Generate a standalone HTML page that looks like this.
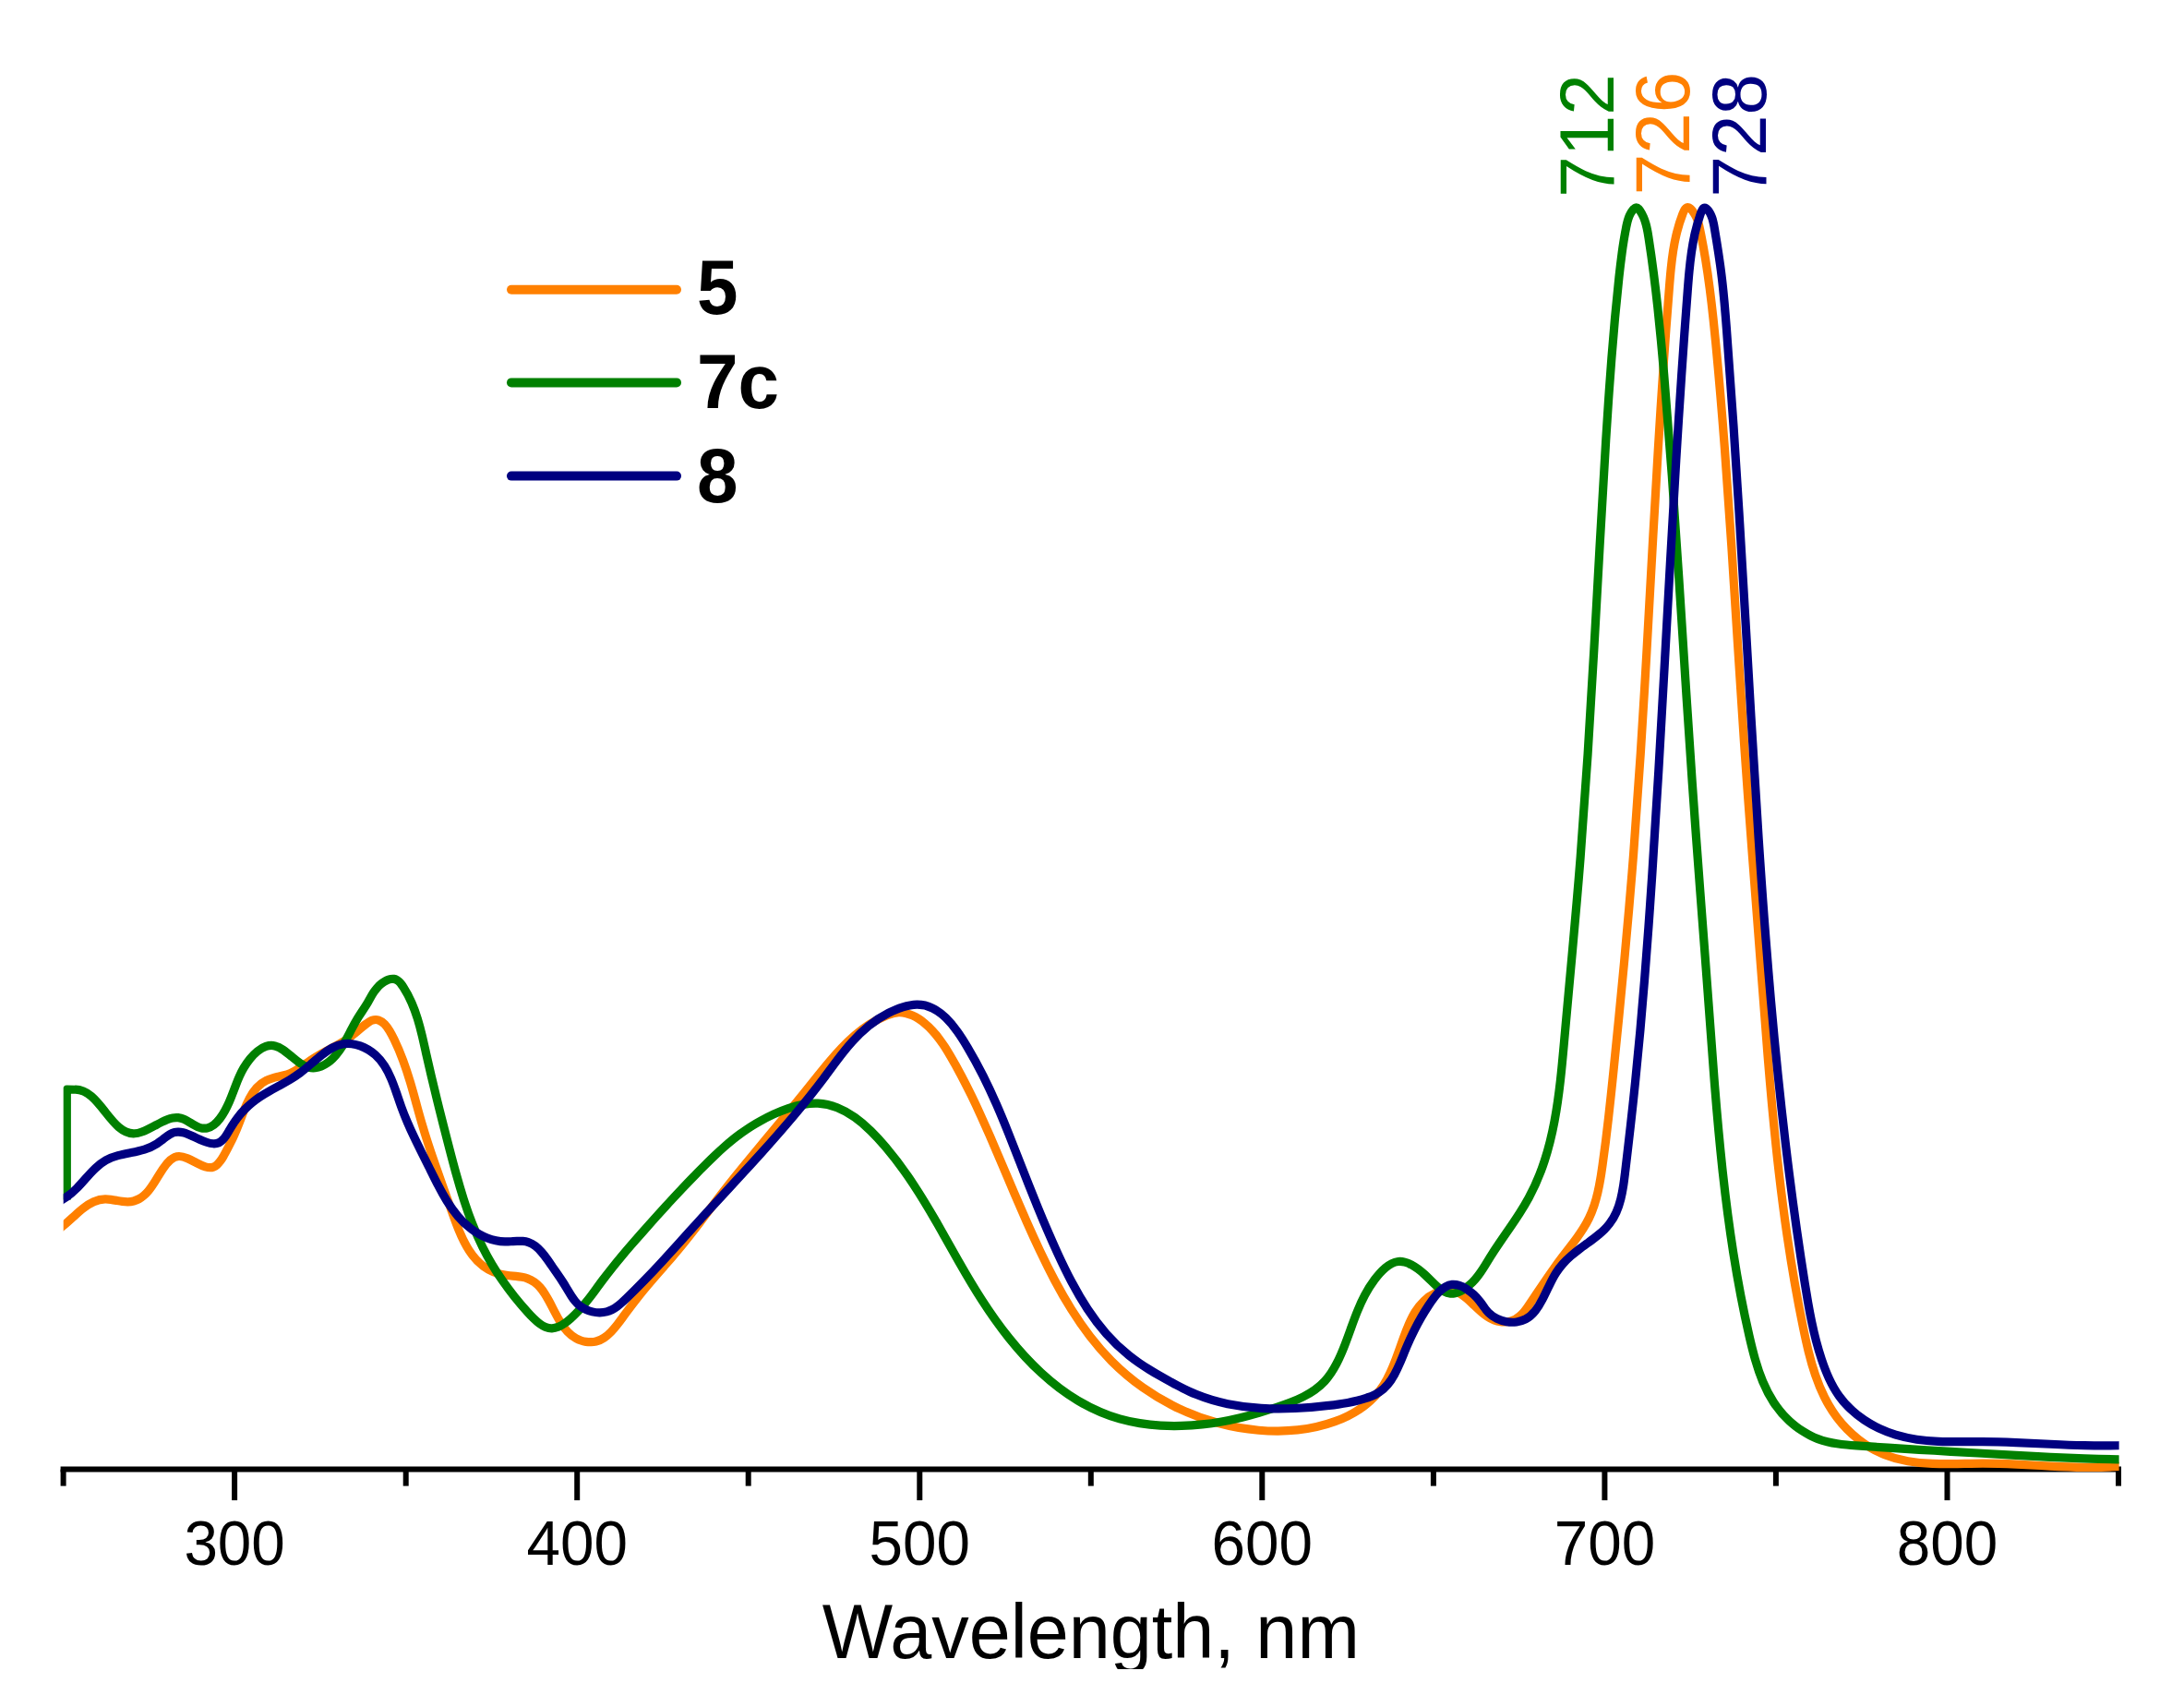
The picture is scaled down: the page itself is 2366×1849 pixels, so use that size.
<!DOCTYPE html>
<html lang="en"><head><meta charset="utf-8"><title>Absorption spectra</title>
<style>
html,body{margin:0;padding:0;background:#fff;}
body{width:2366px;height:1849px;overflow:hidden;font-family:"Liberation Sans",Arial,Helvetica,sans-serif;}
svg{display:block}
svg text{font-family:"Liberation Sans",Arial,Helvetica,sans-serif;}
</style></head><body>
<svg width="2366" height="1849" viewBox="0 0 2366 1849">
<defs><clipPath id="clipb"><rect x="0" y="0" width="2366" height="1808"/></clipPath><clipPath id="frame"><rect x="68.7" y="0" width="2226.9" height="1700"/></clipPath></defs>
<rect width="2366" height="1849" fill="#fff"/>

<g stroke="#000" stroke-width="6" fill="none" stroke-linecap="butt">
<line x1="65.6" y1="1591.6" x2="2298.0" y2="1591.6"/>
<line x1="68.6" y1="1591.6" x2="68.6" y2="1609.6"/>
<line x1="254.1" y1="1591.6" x2="254.1" y2="1625.1"/>
<line x1="439.7" y1="1591.6" x2="439.7" y2="1609.6"/>
<line x1="625.2" y1="1591.6" x2="625.2" y2="1625.1"/>
<line x1="810.7" y1="1591.6" x2="810.7" y2="1609.6"/>
<line x1="996.3" y1="1591.6" x2="996.3" y2="1625.1"/>
<line x1="1181.8" y1="1591.6" x2="1181.8" y2="1609.6"/>
<line x1="1367.3" y1="1591.6" x2="1367.3" y2="1625.1"/>
<line x1="1552.9" y1="1591.6" x2="1552.9" y2="1609.6"/>
<line x1="1738.4" y1="1591.6" x2="1738.4" y2="1625.1"/>
<line x1="1923.9" y1="1591.6" x2="1923.9" y2="1609.6"/>
<line x1="2109.5" y1="1591.6" x2="2109.5" y2="1625.1"/>
<line x1="2295.0" y1="1591.6" x2="2295.0" y2="1609.6"/>
</g>
<g font-size="65.6" fill="#000" text-anchor="middle">
<text transform="translate(254.1 1695.3) scale(1 1.04)">300</text>
<text transform="translate(625.2 1695.3) scale(1 1.04)">400</text>
<text transform="translate(996.3 1695.3) scale(1 1.04)">500</text>
<text transform="translate(1367.3 1695.3) scale(1 1.04)">600</text>
<text transform="translate(1738.4 1695.3) scale(1 1.04)">700</text>
<text transform="translate(2109.5 1695.3) scale(1 1.04)">800</text>
</g>
<g clip-path="url(#clipb)"><text transform="translate(1181.8 1795.5) scale(1 1.025)" font-size="81" fill="#000" text-anchor="middle">Wavelength, nm</text></g>
<g clip-path="url(#frame)">
<path d="M62.60 1332.55L70.00 1326.51C73.39 1323.74 76.73 1320.65 80.10 1317.56C83.47 1314.48 86.87 1311.41 90.40 1308.68C93.94 1305.94 97.61 1303.55 101.50 1301.82C105.40 1300.09 109.53 1299.04 113.99 1298.97C115.96 1298.95 117.99 1299.11 120.05 1299.38C122.11 1299.65 124.20 1300.01 126.29 1300.38C128.37 1300.74 130.44 1301.11 132.47 1301.38C134.50 1301.65 136.49 1301.83 138.39 1301.82C140.64 1301.80 142.78 1301.52 144.81 1300.98C146.85 1300.45 148.79 1299.66 150.64 1298.64C152.50 1297.63 154.27 1296.37 155.96 1294.90C157.66 1293.43 159.28 1291.74 160.85 1289.85C163.63 1286.49 166.23 1282.49 168.78 1278.38C171.32 1274.26 173.82 1270.04 176.40 1266.22C178.98 1262.41 181.64 1259.01 184.53 1256.54C187.41 1254.08 190.51 1252.55 193.96 1252.48C196.81 1252.42 199.90 1253.36 203.09 1254.74C206.29 1256.12 209.59 1257.93 212.87 1259.64C216.14 1261.34 219.39 1262.94 222.48 1263.87C225.57 1264.79 228.49 1265.06 231.13 1264.10C232.51 1263.60 233.81 1262.76 235.05 1261.68C236.28 1260.60 237.44 1259.28 238.54 1257.81C239.65 1256.33 240.69 1254.71 241.69 1253.03C242.69 1251.35 243.64 1249.62 244.56 1247.92C246.06 1245.12 247.47 1242.43 248.80 1239.79C250.13 1237.14 251.38 1234.55 252.58 1231.96C253.78 1229.38 254.93 1226.80 256.04 1224.18C257.15 1221.55 258.23 1218.89 259.30 1216.14C260.97 1211.82 262.62 1207.27 264.40 1202.77C266.18 1198.27 268.10 1193.81 270.31 1189.65C272.52 1185.49 275.03 1181.63 278.00 1178.32C280.98 1175.01 284.41 1172.26 288.47 1170.31C290.37 1169.40 292.42 1168.67 294.54 1168.03C296.65 1167.40 298.85 1166.85 301.06 1166.33C303.27 1165.80 305.49 1165.29 307.67 1164.71C309.85 1164.13 311.98 1163.49 314.00 1162.69C316.06 1161.89 318.00 1160.92 319.88 1159.85C321.75 1158.79 323.56 1157.61 325.34 1156.39C327.12 1155.16 328.87 1153.87 330.65 1152.58C332.42 1151.29 334.21 1149.99 336.05 1148.74C338.91 1146.80 341.92 1144.96 344.98 1143.19C348.04 1141.42 351.17 1139.71 354.27 1138.04C357.37 1136.38 360.46 1134.74 363.44 1133.11C366.41 1131.48 369.29 1129.84 371.98 1128.18C373.47 1127.26 374.91 1126.32 376.32 1125.35C377.74 1124.39 379.13 1123.39 380.54 1122.33C381.94 1121.27 383.36 1120.15 384.84 1118.96C386.31 1117.76 387.83 1116.49 389.43 1115.11C390.50 1114.19 391.60 1113.23 392.72 1112.28C393.84 1111.33 394.98 1110.39 396.12 1109.50C397.27 1108.62 398.41 1107.80 399.54 1107.09C400.66 1106.38 401.77 1105.78 402.85 1105.35C405.55 1104.28 408.03 1104.25 410.33 1105.01C412.63 1105.76 414.75 1107.31 416.71 1109.37C418.68 1111.43 420.49 1114.02 422.18 1116.85C423.88 1119.69 425.45 1122.79 426.94 1125.87C430.64 1133.52 433.80 1141.12 436.61 1148.67C439.42 1156.22 441.87 1163.72 444.12 1171.20C446.38 1178.67 448.44 1186.12 450.47 1193.54C452.51 1200.96 454.52 1208.36 456.67 1215.76C458.89 1223.39 461.25 1231.01 463.73 1238.64C466.21 1246.27 468.80 1253.92 471.47 1261.60C474.13 1269.29 476.87 1277.01 479.65 1284.79C482.42 1292.56 485.24 1300.40 488.05 1308.32C490.94 1316.47 493.83 1324.71 497.08 1332.57C500.32 1340.44 503.93 1347.93 508.24 1354.59C512.56 1361.25 517.60 1367.07 523.70 1371.61C529.81 1376.14 536.99 1379.38 545.60 1380.87C547.70 1381.24 549.89 1381.50 552.11 1381.72C554.33 1381.95 556.58 1382.14 558.80 1382.38C561.03 1382.61 563.23 1382.88 565.36 1383.26C567.48 1383.64 569.52 1384.12 571.43 1384.79C574.17 1385.75 576.64 1387.09 578.89 1388.72C581.14 1390.34 583.17 1392.26 585.04 1394.40C586.91 1396.54 588.62 1398.90 590.22 1401.39C591.83 1403.89 593.33 1406.52 594.79 1409.22C596.87 1413.08 598.86 1417.07 600.90 1421.00C602.93 1424.93 605.01 1428.80 607.27 1432.43C609.53 1436.05 611.97 1439.43 614.74 1442.39C617.50 1445.34 620.59 1447.86 624.14 1449.77C625.77 1450.65 627.50 1451.40 629.29 1452.00C631.08 1452.60 632.92 1453.05 634.78 1453.34C636.63 1453.63 638.51 1453.76 640.35 1453.71C642.20 1453.66 644.02 1453.43 645.77 1453.00C648.84 1452.25 651.71 1450.89 654.40 1449.09C657.10 1447.30 659.64 1445.07 662.05 1442.57C664.46 1440.08 666.75 1437.32 668.96 1434.47C671.18 1431.61 673.32 1428.67 675.43 1425.80C677.89 1422.44 680.32 1419.19 682.73 1416.01C685.14 1412.84 687.53 1409.74 689.93 1406.70C692.32 1403.65 694.72 1400.65 697.15 1397.68C699.59 1394.70 702.05 1391.75 704.56 1388.79C706.98 1385.94 709.45 1383.08 711.94 1380.22C714.44 1377.35 716.96 1374.47 719.48 1371.59C722.01 1368.70 724.54 1365.80 727.06 1362.89C729.57 1359.97 732.07 1357.05 734.53 1354.10C738.65 1349.17 742.65 1344.20 746.59 1339.19C750.52 1334.18 754.39 1329.15 758.23 1324.10C762.07 1319.05 765.87 1313.99 769.69 1308.94C773.51 1303.88 777.34 1298.84 781.21 1293.81C788.67 1284.16 796.30 1274.59 804.04 1265.07C811.78 1255.56 819.63 1246.10 827.49 1236.65C835.36 1227.21 843.24 1217.78 851.07 1208.33C858.90 1198.88 866.67 1189.42 874.30 1179.90C876.31 1177.39 878.31 1174.88 880.31 1172.37C882.31 1169.85 884.31 1167.34 886.32 1164.84C888.34 1162.33 890.36 1159.82 892.40 1157.33C894.44 1154.83 896.51 1152.34 898.60 1149.86C902.83 1144.85 907.19 1139.89 911.74 1135.10C916.28 1130.31 921.02 1125.70 926.00 1121.41C930.98 1117.11 936.21 1113.12 941.75 1109.58C947.29 1106.04 953.14 1102.95 959.36 1100.43C960.51 1099.96 961.67 1099.51 962.85 1099.10C964.02 1098.69 965.20 1098.32 966.39 1097.99C967.57 1097.66 968.76 1097.39 969.95 1097.18C971.14 1096.97 972.33 1096.83 973.52 1096.76C976.07 1096.63 978.60 1096.87 981.09 1097.42C983.58 1097.96 986.03 1098.80 988.42 1099.88C990.81 1100.95 993.13 1102.25 995.37 1103.70C997.60 1105.16 999.75 1106.76 1001.79 1108.45C1004.76 1110.90 1007.49 1113.52 1010.04 1116.27C1012.60 1119.02 1014.97 1121.91 1017.21 1124.89C1019.45 1127.87 1021.56 1130.96 1023.58 1134.10C1025.60 1137.25 1027.55 1140.45 1029.45 1143.69C1033.52 1150.59 1037.43 1157.62 1041.21 1164.74C1044.99 1171.87 1048.64 1179.08 1052.18 1186.36C1055.72 1193.64 1059.16 1200.97 1062.52 1208.33C1065.87 1215.69 1069.15 1223.08 1072.37 1230.46C1076.93 1240.89 1081.37 1251.31 1085.78 1261.71C1090.19 1272.11 1094.57 1282.50 1098.99 1292.87C1103.40 1303.23 1107.87 1313.59 1112.44 1323.92C1117.02 1334.25 1121.72 1344.57 1126.60 1354.87C1131.71 1365.64 1137.04 1376.39 1142.66 1386.98C1148.29 1397.57 1154.22 1408.00 1160.55 1418.13C1166.89 1428.26 1173.62 1438.09 1180.85 1447.48C1188.08 1456.87 1195.80 1465.83 1204.11 1474.20C1214.61 1484.78 1226.05 1494.44 1238.24 1503.05C1250.44 1511.67 1263.39 1519.24 1276.92 1525.65C1290.45 1532.06 1304.55 1537.31 1319.05 1541.28C1333.54 1545.25 1348.43 1547.94 1363.53 1549.22C1370.53 1549.82 1377.58 1550.12 1384.61 1550.08C1391.65 1550.04 1398.68 1549.66 1405.65 1548.91C1412.62 1548.16 1419.52 1547.04 1426.31 1545.51C1433.10 1543.98 1439.78 1542.05 1446.29 1539.67C1450.99 1537.95 1455.61 1536.00 1460.08 1533.79C1464.55 1531.59 1468.86 1529.14 1472.96 1526.41C1477.06 1523.68 1480.94 1520.68 1484.54 1517.40C1488.15 1514.11 1491.47 1510.53 1494.45 1506.63C1497.48 1502.67 1500.15 1498.39 1502.58 1493.88C1505.00 1489.37 1507.17 1484.63 1509.19 1479.75C1511.21 1474.87 1513.08 1469.86 1514.90 1464.79C1516.72 1459.73 1518.50 1454.62 1520.33 1449.56C1522.17 1444.46 1524.07 1439.40 1526.18 1434.55C1528.29 1429.70 1530.61 1425.06 1533.29 1420.78C1535.97 1416.51 1539.01 1412.59 1542.56 1409.21C1546.11 1405.82 1550.17 1402.96 1554.90 1400.78C1556.01 1400.27 1557.15 1399.79 1558.31 1399.37C1559.48 1398.95 1560.66 1398.58 1561.85 1398.27C1563.04 1397.97 1564.24 1397.73 1565.42 1397.56C1566.61 1397.40 1567.79 1397.32 1568.94 1397.33C1573.98 1397.36 1578.54 1399.17 1582.87 1401.93C1587.19 1404.70 1591.28 1408.43 1595.37 1412.31C1599.46 1416.20 1603.56 1420.24 1607.91 1423.64C1612.27 1427.03 1616.87 1429.77 1621.97 1431.06C1623.60 1431.47 1625.27 1431.73 1626.96 1431.85C1628.65 1431.97 1630.35 1431.94 1632.03 1431.76C1633.71 1431.58 1635.37 1431.26 1636.97 1430.80C1638.57 1430.33 1640.11 1429.72 1641.56 1428.97C1643.35 1428.04 1645.00 1426.88 1646.53 1425.57C1648.07 1424.26 1649.49 1422.78 1650.84 1421.20C1652.18 1419.61 1653.46 1417.93 1654.69 1416.19C1655.92 1414.45 1657.11 1412.67 1658.29 1410.89C1661.11 1406.65 1663.89 1402.46 1666.66 1398.31C1669.44 1394.16 1672.21 1390.06 1675.00 1385.98C1677.79 1381.91 1680.61 1377.87 1683.47 1373.85C1686.34 1369.84 1689.26 1365.85 1692.27 1361.88C1694.87 1358.45 1697.54 1355.03 1700.19 1351.59C1702.84 1348.16 1705.47 1344.71 1708.01 1341.21C1710.55 1337.71 1713.00 1334.16 1715.27 1330.53C1717.55 1326.90 1719.65 1323.19 1721.50 1319.37C1723.64 1314.97 1725.44 1310.43 1726.99 1305.77C1728.54 1301.12 1729.83 1296.36 1730.94 1291.52C1732.05 1286.69 1732.99 1281.78 1733.82 1276.84C1734.65 1271.91 1735.38 1266.94 1736.08 1261.98C1737.28 1253.49 1738.40 1245.03 1739.46 1236.58C1740.52 1228.13 1741.53 1219.69 1742.48 1211.27C1743.44 1202.84 1744.36 1194.42 1745.25 1186.01C1746.15 1177.59 1747.02 1169.18 1747.88 1160.76C1749.89 1141.20 1751.87 1121.62 1753.80 1102.02C1755.73 1082.42 1757.62 1062.81 1759.45 1043.18C1761.28 1023.56 1763.05 1003.92 1764.75 984.27C1766.44 964.62 1768.06 944.97 1769.59 925.31C1772.43 888.85 1774.97 852.37 1777.31 815.88C1779.66 779.40 1781.81 742.90 1783.88 706.40C1785.95 669.91 1787.94 633.41 1789.96 596.91C1791.98 560.42 1794.04 523.93 1796.24 487.46C1797.13 472.79 1798.04 458.12 1798.98 443.45C1799.91 428.78 1800.88 414.11 1801.89 399.43C1802.89 384.76 1803.94 370.08 1805.02 355.39C1806.11 340.71 1807.23 326.02 1808.41 311.32C1808.95 304.62 1809.50 297.91 1810.17 291.23C1810.84 284.54 1811.64 277.88 1812.68 271.26C1813.72 264.64 1815.00 258.06 1816.63 251.55C1818.27 245.04 1820.26 238.59 1822.72 232.23C1823.14 231.14 1823.58 230.06 1824.04 229.06C1824.51 228.06 1825.00 227.15 1825.53 226.41C1826.07 225.67 1826.65 225.10 1827.28 224.80C1827.92 224.49 1828.62 224.44 1829.38 224.74C1829.91 224.94 1830.46 225.31 1831.03 225.79C1831.61 226.27 1832.19 226.87 1832.77 227.55C1833.35 228.22 1833.93 228.98 1834.47 229.76C1835.02 230.55 1835.55 231.37 1836.02 232.18C1836.84 233.58 1837.53 234.95 1838.11 236.30C1838.70 237.65 1839.18 238.99 1839.60 240.31C1840.02 241.63 1840.36 242.95 1840.68 244.26C1840.99 245.56 1841.27 246.87 1841.54 248.17C1843.76 258.82 1845.73 269.54 1847.49 280.31C1849.26 291.09 1850.81 301.92 1852.22 312.78C1853.63 323.65 1854.89 334.55 1856.06 345.47C1857.23 356.39 1858.30 367.33 1859.34 378.27C1862.71 413.95 1865.68 449.64 1868.39 485.32C1871.09 521.01 1873.53 556.70 1875.86 592.39C1878.19 628.08 1880.40 663.78 1882.65 699.49C1884.89 735.19 1887.17 770.91 1889.62 806.64C1890.99 826.54 1892.41 846.45 1893.87 866.36C1895.33 886.27 1896.83 906.18 1898.34 926.09C1899.85 945.99 1901.38 965.89 1902.91 985.77C1904.44 1005.66 1905.97 1025.53 1907.47 1045.39C1909.96 1078.18 1912.39 1110.92 1915.05 1143.63C1917.72 1176.34 1920.62 1209.03 1924.06 1241.70C1927.49 1274.37 1931.45 1307.03 1936.24 1339.69C1941.03 1372.35 1946.64 1405.01 1953.37 1437.68C1955.17 1446.43 1957.05 1455.18 1959.19 1463.82C1961.32 1472.46 1963.72 1480.99 1966.54 1489.29C1969.37 1497.59 1972.63 1505.66 1976.50 1513.40C1980.36 1521.14 1984.84 1528.54 1990.10 1535.48C1993.40 1539.85 1997.01 1544.03 2000.89 1547.98C2004.77 1551.93 2008.91 1555.65 2013.27 1559.07C2017.63 1562.50 2022.22 1565.63 2026.97 1568.42C2031.73 1571.21 2036.67 1573.65 2041.73 1575.68C2049.83 1578.94 2058.27 1581.16 2066.92 1582.67C2075.58 1584.17 2084.46 1584.96 2093.44 1585.33C2102.43 1585.71 2111.52 1585.68 2120.61 1585.55C2129.70 1585.42 2138.79 1585.20 2147.75 1585.19C2160.25 1585.18 2172.52 1585.60 2184.69 1586.17C2196.86 1586.74 2208.94 1587.47 2221.06 1588.09C2233.17 1588.70 2245.33 1589.21 2257.67 1589.35C2270.01 1589.49 2282.52 1589.25 2295.34 1588.38L2301.02 1587.99" fill="none" stroke="#ff8000" stroke-width="9.2" stroke-linejoin="round" stroke-linecap="butt"/>
<path d="M72.3 1299.5 L72.3 1180.2 L81.15 1180.23C87.89 1180.06 93.69 1183.06 99.02 1187.62C104.34 1192.19 109.19 1198.32 114.00 1204.42C118.81 1210.52 123.58 1216.58 128.77 1221.01C133.96 1225.43 139.57 1228.22 146.03 1227.77C148.28 1227.61 150.64 1227.06 153.05 1226.25C155.46 1225.44 157.93 1224.37 160.40 1223.17C162.88 1221.97 165.37 1220.64 167.82 1219.32C170.27 1217.99 172.68 1216.67 175.00 1215.49C177.11 1214.41 179.14 1213.45 181.14 1212.66C183.14 1211.88 185.11 1211.27 187.07 1210.91C189.04 1210.55 191.01 1210.44 193.01 1210.64C195.02 1210.85 197.06 1211.36 199.17 1212.26C200.41 1212.79 201.68 1213.45 202.96 1214.18C204.24 1214.90 205.53 1215.69 206.82 1216.48C208.12 1217.27 209.41 1218.06 210.69 1218.79C211.97 1219.51 213.24 1220.16 214.49 1220.68C215.36 1221.04 216.21 1221.34 217.06 1221.57C217.90 1221.80 218.74 1221.97 219.56 1222.07C220.38 1222.18 221.18 1222.22 221.98 1222.19C222.77 1222.17 223.55 1222.08 224.32 1221.93C226.95 1221.41 229.42 1220.15 231.74 1218.37C234.06 1216.59 236.22 1214.27 238.22 1211.64C240.23 1209.01 242.07 1206.05 243.76 1202.98C245.44 1199.91 246.97 1196.72 248.33 1193.63C249.78 1190.32 251.05 1187.12 252.24 1183.99C253.43 1180.86 254.54 1177.81 255.69 1174.79C256.85 1171.78 258.03 1168.81 259.37 1165.84C260.70 1162.87 262.19 1159.92 263.93 1156.93C265.88 1153.59 268.16 1150.22 270.69 1147.09C273.21 1143.97 275.98 1141.08 278.92 1138.72C281.86 1136.35 284.96 1134.50 288.15 1133.45C291.35 1132.39 294.63 1132.13 297.91 1132.93C300.92 1133.67 303.93 1135.30 306.96 1137.37C309.98 1139.45 313.02 1141.98 316.07 1144.51C319.13 1147.05 322.20 1149.59 325.31 1151.70C328.41 1153.81 331.53 1155.48 334.69 1156.29C336.94 1156.86 339.22 1156.98 341.47 1156.74C343.72 1156.50 345.95 1155.89 348.12 1155.00C350.29 1154.11 352.40 1152.94 354.41 1151.56C356.43 1150.19 358.34 1148.61 360.13 1146.90C363.05 1144.11 365.62 1140.99 367.95 1137.66C370.28 1134.33 372.38 1130.80 374.37 1127.17C376.36 1123.54 378.25 1119.83 380.15 1116.14C382.06 1112.46 383.98 1108.80 386.06 1105.30C387.07 1103.60 388.11 1101.93 389.17 1100.28C390.23 1098.64 391.30 1097.01 392.37 1095.39C393.44 1093.77 394.51 1092.15 395.55 1090.52C396.59 1088.89 397.61 1087.25 398.59 1085.59C399.61 1083.85 400.58 1082.09 401.58 1080.33C402.57 1078.57 403.59 1076.82 404.70 1075.11C405.81 1073.41 407.01 1071.74 408.38 1070.16C409.74 1068.57 411.27 1067.06 413.02 1065.67C414.05 1064.85 415.16 1064.08 416.31 1063.38C417.46 1062.68 418.65 1062.07 419.85 1061.57C421.04 1061.07 422.24 1060.70 423.40 1060.49C424.57 1060.28 425.70 1060.23 426.75 1060.38C427.86 1060.54 428.88 1060.93 429.84 1061.48C430.80 1062.03 431.70 1062.75 432.54 1063.58C433.38 1064.42 434.18 1065.37 434.94 1066.38C435.69 1067.39 436.41 1068.46 437.11 1069.54C440.55 1074.87 443.45 1080.41 445.94 1086.08C448.43 1091.76 450.52 1097.59 452.35 1103.50C454.17 1109.42 455.74 1115.43 457.19 1121.47C458.63 1127.51 459.96 1133.59 461.31 1139.65C463.28 1148.48 465.30 1157.27 467.36 1166.03C469.42 1174.79 471.53 1183.53 473.68 1192.25C475.82 1200.98 478.01 1209.69 480.22 1218.41C482.44 1227.13 484.69 1235.85 486.97 1244.59C489.33 1253.66 491.72 1262.76 494.23 1271.82C496.75 1280.87 499.39 1289.89 502.24 1298.81C505.10 1307.74 508.18 1316.56 511.56 1325.23C514.95 1333.90 518.65 1342.41 522.76 1350.71C525.88 1357.02 529.25 1363.21 532.85 1369.29C536.45 1375.37 540.29 1381.34 544.38 1387.22C548.47 1393.11 552.80 1398.90 557.38 1404.62C561.96 1410.35 566.79 1416.00 571.88 1421.59C573.88 1423.79 575.92 1425.99 578.01 1428.04C580.10 1430.09 582.22 1431.99 584.40 1433.61C586.57 1435.23 588.79 1436.56 591.06 1437.47C593.33 1438.39 595.65 1438.87 598.02 1438.80C600.23 1438.74 602.48 1438.18 604.74 1437.27C607.00 1436.35 609.27 1435.07 611.51 1433.54C613.75 1432.01 615.96 1430.24 618.10 1428.34C620.25 1426.45 622.33 1424.43 624.30 1422.41C627.21 1419.42 629.90 1416.43 632.44 1413.44C634.97 1410.44 637.36 1407.44 639.65 1404.43C641.95 1401.43 644.17 1398.42 646.38 1395.41C648.58 1392.40 650.78 1389.38 653.04 1386.37C656.24 1382.09 659.57 1377.81 662.99 1373.53C666.41 1369.26 669.92 1365.00 673.48 1360.75C677.04 1356.51 680.66 1352.28 684.29 1348.09C687.92 1343.89 691.57 1339.73 695.21 1335.61C700.07 1330.10 704.90 1324.66 709.73 1319.28C714.57 1313.89 719.40 1308.55 724.28 1303.24C729.16 1297.93 734.08 1292.64 739.09 1287.35C744.09 1282.06 749.17 1276.77 754.36 1271.45C757.63 1268.10 760.94 1264.74 764.29 1261.42C767.64 1258.09 771.02 1254.80 774.43 1251.57C777.84 1248.35 781.28 1245.20 784.73 1242.16C788.19 1239.13 791.65 1236.21 795.13 1233.44C797.36 1231.66 799.60 1229.95 801.86 1228.29C804.12 1226.63 806.40 1225.03 808.73 1223.46C811.06 1221.90 813.43 1220.37 815.86 1218.88C818.30 1217.38 820.80 1215.91 823.38 1214.47C828.07 1211.83 833.04 1209.26 838.18 1206.89C843.32 1204.52 848.63 1202.36 854.00 1200.56C859.37 1198.76 864.79 1197.31 870.18 1196.37C875.56 1195.43 880.89 1195.00 886.06 1195.22C893.33 1195.54 900.28 1197.16 906.94 1199.78C913.60 1202.39 919.96 1206.01 926.04 1210.33C932.12 1214.65 937.92 1219.67 943.46 1225.09C949.00 1230.51 954.27 1236.33 959.30 1242.25C970.17 1255.05 979.88 1268.33 988.90 1281.92C997.91 1295.50 1006.23 1309.39 1014.30 1323.41C1022.37 1337.43 1030.20 1351.58 1038.24 1365.69C1046.28 1379.80 1054.52 1393.87 1063.44 1407.73C1072.65 1422.05 1082.56 1436.13 1093.27 1449.50C1103.97 1462.87 1115.46 1475.51 1127.82 1486.93C1140.18 1498.36 1153.40 1508.56 1167.57 1517.05C1181.74 1525.54 1196.85 1532.32 1212.99 1536.88C1220.07 1538.88 1227.35 1540.46 1234.74 1541.65C1242.14 1542.84 1249.66 1543.64 1257.21 1544.09C1264.77 1544.55 1272.37 1544.65 1279.94 1544.44C1287.50 1544.23 1295.03 1543.71 1302.44 1542.91C1309.48 1542.16 1316.41 1541.16 1323.27 1539.94C1330.14 1538.73 1336.93 1537.30 1343.67 1535.68C1350.42 1534.07 1357.13 1532.26 1363.83 1530.31C1370.52 1528.36 1377.21 1526.25 1383.91 1524.01C1388.66 1522.43 1393.42 1520.79 1398.09 1518.99C1402.77 1517.18 1407.35 1515.22 1411.76 1513.00C1416.17 1510.78 1420.40 1508.30 1424.36 1505.47C1428.32 1502.63 1432.00 1499.44 1435.32 1495.80C1437.71 1493.16 1439.92 1490.29 1441.96 1487.25C1444.01 1484.21 1445.89 1480.99 1447.64 1477.68C1449.39 1474.36 1451.01 1470.94 1452.52 1467.48C1454.04 1464.03 1455.46 1460.53 1456.80 1457.07C1459.26 1450.76 1461.48 1444.54 1463.69 1438.43C1465.89 1432.32 1468.09 1426.30 1470.49 1420.39C1472.89 1414.48 1475.50 1408.66 1478.54 1402.94C1481.59 1397.22 1485.06 1391.60 1489.18 1386.07C1490.92 1383.73 1492.78 1381.41 1494.74 1379.22C1496.70 1377.04 1498.76 1374.99 1500.90 1373.20C1503.04 1371.42 1505.27 1369.89 1507.56 1368.74C1509.85 1367.59 1512.21 1366.82 1514.62 1366.54C1516.98 1366.28 1519.38 1366.49 1521.81 1367.10C1524.24 1367.70 1526.68 1368.69 1529.11 1369.97C1531.55 1371.26 1533.97 1372.84 1536.35 1374.63C1538.73 1376.41 1541.07 1378.40 1543.34 1380.50C1545.74 1382.73 1548.07 1385.07 1550.35 1387.36C1552.64 1389.64 1554.90 1391.86 1557.16 1393.82C1559.43 1395.79 1561.70 1397.50 1564.03 1398.77C1566.36 1400.05 1568.74 1400.88 1571.22 1401.08C1572.93 1401.21 1574.69 1401.05 1576.46 1400.65C1578.23 1400.25 1580.01 1399.60 1581.77 1398.78C1583.53 1397.95 1585.27 1396.94 1586.95 1395.81C1588.62 1394.68 1590.24 1393.42 1591.77 1392.10C1594.17 1390.03 1596.34 1387.80 1598.35 1385.45C1600.36 1383.10 1602.21 1380.64 1603.96 1378.10C1605.72 1375.56 1607.38 1372.96 1609.02 1370.32C1610.65 1367.68 1612.27 1365.02 1613.92 1362.36C1617.32 1356.92 1620.89 1351.55 1624.54 1346.19C1628.18 1340.84 1631.90 1335.51 1635.56 1330.16C1639.23 1324.81 1642.85 1319.45 1646.32 1314.02C1649.79 1308.59 1653.10 1303.10 1656.14 1297.52C1663.17 1284.59 1668.77 1271.12 1673.29 1257.26C1677.80 1243.40 1681.25 1229.14 1683.98 1214.64C1686.71 1200.14 1688.73 1185.39 1690.40 1170.55C1692.07 1155.70 1693.39 1140.76 1694.73 1125.86C1696.22 1109.34 1697.72 1092.87 1699.22 1076.45C1700.72 1060.03 1702.22 1043.65 1703.70 1027.29C1705.17 1010.93 1706.62 994.60 1708.03 978.27C1709.44 961.94 1710.80 945.62 1712.09 929.28C1715.07 891.75 1717.70 854.14 1720.11 816.48C1722.53 778.83 1724.73 741.12 1726.85 703.40C1728.97 665.67 1731.02 627.93 1733.12 590.19C1735.22 552.45 1737.37 514.72 1739.72 477.02C1740.64 462.25 1741.59 447.49 1742.60 432.74C1743.61 418.00 1744.67 403.26 1745.82 388.54C1746.96 373.82 1748.19 359.12 1749.54 344.45C1750.88 329.77 1752.33 315.12 1753.92 300.50C1754.40 296.15 1754.88 291.79 1755.40 287.43C1755.92 283.07 1756.47 278.70 1757.07 274.31C1757.66 269.91 1758.31 265.50 1759.03 261.05C1759.75 256.60 1760.54 252.11 1761.42 247.58C1761.77 245.76 1762.14 243.93 1762.56 242.13C1762.98 240.33 1763.45 238.56 1764.01 236.85C1764.57 235.15 1765.22 233.51 1766.00 231.98C1766.78 230.44 1767.69 229.01 1768.77 227.72C1769.09 227.33 1769.42 226.96 1769.77 226.61C1770.12 226.27 1770.47 225.97 1770.83 225.71C1771.19 225.46 1771.55 225.26 1771.92 225.13C1772.28 225.00 1772.64 224.95 1773.00 224.99C1773.34 225.03 1773.67 225.16 1774.00 225.35C1774.33 225.55 1774.65 225.81 1774.96 226.12C1775.28 226.43 1775.58 226.78 1775.88 227.16C1776.18 227.54 1776.47 227.95 1776.75 228.36C1778.23 230.54 1779.46 232.85 1780.50 235.27C1781.53 237.69 1782.37 240.20 1783.08 242.79C1783.78 245.38 1784.35 248.03 1784.85 250.71C1785.35 253.40 1785.78 256.12 1786.20 258.84C1788.10 271.11 1789.82 283.35 1791.39 295.57C1792.97 307.79 1794.40 320.00 1795.72 332.18C1797.04 344.37 1798.26 356.55 1799.40 368.73C1800.55 380.90 1801.62 393.07 1802.67 405.25C1805.82 442.06 1808.66 478.93 1811.32 515.83C1813.98 552.73 1816.45 589.66 1818.85 626.61C1821.25 663.55 1823.57 700.52 1825.94 737.47C1828.31 774.43 1830.73 811.39 1833.30 848.32C1834.67 868.02 1836.09 887.71 1837.53 907.40C1838.98 927.09 1840.45 946.78 1841.93 966.47C1843.41 986.15 1844.90 1005.84 1846.39 1025.52C1847.87 1045.20 1849.34 1064.89 1850.79 1084.58C1853.01 1114.92 1855.17 1145.26 1857.59 1175.58C1860.01 1205.90 1862.69 1236.19 1865.94 1266.43C1869.20 1296.67 1873.03 1326.85 1877.76 1356.94C1882.49 1387.02 1888.12 1417.02 1894.97 1446.89C1896.92 1455.41 1898.97 1463.91 1901.35 1472.25C1903.74 1480.59 1906.46 1488.77 1909.74 1496.64C1913.03 1504.51 1916.88 1512.06 1921.54 1519.15C1926.20 1526.24 1931.65 1532.86 1938.15 1538.87C1940.39 1540.94 1942.76 1542.94 1945.22 1544.84C1947.68 1546.75 1950.25 1548.55 1952.88 1550.22C1955.52 1551.90 1958.23 1553.45 1960.99 1554.85C1963.74 1556.26 1966.55 1557.51 1969.38 1558.58C1972.78 1559.87 1976.21 1560.91 1979.67 1561.75C1983.13 1562.60 1986.62 1563.25 1990.12 1563.77C1993.63 1564.30 1997.16 1564.69 2000.69 1565.02C2004.23 1565.35 2007.78 1565.61 2011.34 1565.87C2022.56 1566.68 2033.84 1567.44 2045.14 1568.18C2056.45 1568.91 2067.78 1569.61 2079.13 1570.30C2090.48 1570.98 2101.85 1571.64 2113.20 1572.30C2124.56 1572.95 2135.92 1573.60 2147.26 1574.26C2159.60 1574.97 2171.92 1575.69 2184.23 1576.38C2196.54 1577.07 2208.84 1577.73 2221.15 1578.33C2233.46 1578.92 2245.78 1579.45 2258.13 1579.88C2270.47 1580.31 2282.84 1580.64 2295.25 1580.83L2301.02 1580.91" fill="none" stroke="#008000" stroke-width="9.2" stroke-linejoin="round" stroke-linecap="butt"/>
<path d="M62.60 1302.53L72.60 1296.06C76.34 1293.65 79.83 1290.55 83.21 1287.12C86.60 1283.68 89.88 1279.92 93.20 1276.17C96.53 1272.42 99.89 1268.69 103.43 1265.33C106.97 1261.96 110.70 1258.97 114.75 1256.70C118.84 1254.40 123.26 1252.83 127.87 1251.60C132.47 1250.38 137.25 1249.49 142.06 1248.53C146.87 1247.58 151.71 1246.56 156.42 1245.08C161.13 1243.60 165.71 1241.66 170.02 1238.85C171.64 1237.80 173.21 1236.62 174.77 1235.42C176.33 1234.23 177.86 1233.00 179.38 1231.86C180.91 1230.71 182.42 1229.64 183.95 1228.74C185.48 1227.84 187.01 1227.12 188.57 1226.67C190.13 1226.21 191.73 1226.03 193.34 1226.07C194.96 1226.11 196.61 1226.36 198.28 1226.78C199.96 1227.19 201.67 1227.77 203.40 1228.45C205.14 1229.13 206.91 1229.91 208.72 1230.74C211.20 1231.88 213.74 1233.10 216.28 1234.24C218.82 1235.38 221.35 1236.44 223.82 1237.25C226.28 1238.06 228.67 1238.61 230.92 1238.75C233.17 1238.88 235.28 1238.60 237.17 1237.72C238.61 1237.06 239.93 1236.05 241.16 1234.81C242.39 1233.57 243.55 1232.08 244.65 1230.46C245.76 1228.83 246.82 1227.07 247.88 1225.27C248.94 1223.46 249.99 1221.62 251.08 1219.84C253.17 1216.41 255.39 1213.21 257.72 1210.21C260.06 1207.21 262.51 1204.41 265.07 1201.80C267.62 1199.19 270.28 1196.76 273.04 1194.49C275.79 1192.22 278.64 1190.11 281.57 1188.15C285.01 1185.84 288.56 1183.73 292.17 1181.69C295.79 1179.65 299.47 1177.68 303.17 1175.67C306.88 1173.65 310.60 1171.59 314.30 1169.36C318.00 1167.13 321.67 1164.73 325.27 1162.04C329.16 1159.14 332.96 1155.89 336.75 1152.63C340.54 1149.36 344.30 1146.06 348.12 1143.05C351.93 1140.03 355.79 1137.30 359.76 1135.16C363.73 1133.02 367.81 1131.47 372.08 1130.81C375.04 1130.36 378.09 1130.34 381.14 1130.70C384.20 1131.06 387.26 1131.80 390.24 1132.86C393.23 1133.91 396.14 1135.29 398.90 1136.94C401.65 1138.58 404.25 1140.49 406.62 1142.61C410.44 1146.02 413.65 1149.98 416.42 1154.31C419.20 1158.64 421.54 1163.33 423.64 1168.23C425.73 1173.13 427.58 1178.24 429.36 1183.37C431.13 1188.50 432.84 1193.67 434.66 1198.70C436.75 1204.49 438.99 1210.10 441.35 1215.59C443.70 1221.08 446.16 1226.46 448.70 1231.79C451.23 1237.12 453.84 1242.39 456.48 1247.69C459.12 1252.99 461.80 1258.30 464.48 1263.70C467.55 1269.90 470.61 1276.20 473.82 1282.43C477.04 1288.66 480.40 1294.81 484.06 1300.70C487.72 1306.59 491.68 1312.22 496.09 1317.39C500.49 1322.57 505.35 1327.30 510.81 1331.39C513.41 1333.33 516.14 1335.13 518.98 1336.75C521.82 1338.36 524.78 1339.78 527.82 1340.97C530.86 1342.16 533.99 1343.11 537.18 1343.79C540.37 1344.46 543.63 1344.86 546.92 1344.93C549.11 1344.98 551.32 1344.88 553.52 1344.75C555.73 1344.62 557.92 1344.45 560.08 1344.36C562.24 1344.27 564.36 1344.25 566.43 1344.41C568.50 1344.57 570.50 1344.91 572.43 1345.55C575.08 1346.43 577.57 1347.86 579.93 1349.67C582.28 1351.49 584.50 1353.69 586.61 1356.10C588.72 1358.51 590.72 1361.13 592.63 1363.80C594.54 1366.46 596.37 1369.17 598.14 1371.74C599.50 1373.71 600.81 1375.60 602.10 1377.45C603.39 1379.31 604.65 1381.12 605.89 1382.93C607.13 1384.74 608.34 1386.54 609.54 1388.38C610.73 1390.22 611.91 1392.09 613.08 1394.03C614.09 1395.72 615.10 1397.47 616.14 1399.21C617.17 1400.96 618.24 1402.71 619.37 1404.41C620.51 1406.11 621.71 1407.77 623.01 1409.33C624.32 1410.89 625.73 1412.36 627.28 1413.68C629.31 1415.40 631.58 1416.88 634.01 1418.09C636.43 1419.29 639.00 1420.23 641.62 1420.86C644.24 1421.50 646.92 1421.84 649.55 1421.86C652.17 1421.88 654.76 1421.57 657.20 1420.92C659.24 1420.38 661.18 1419.60 663.04 1418.63C664.90 1417.66 666.69 1416.52 668.42 1415.25C670.15 1413.97 671.83 1412.58 673.48 1411.12C675.12 1409.66 676.73 1408.13 678.34 1406.60C685.13 1400.11 691.73 1393.51 698.21 1386.82C704.68 1380.14 711.02 1373.38 717.30 1366.57C723.57 1359.76 729.77 1352.91 735.95 1346.05C742.13 1339.18 748.30 1332.31 754.51 1325.47C766.25 1312.53 778.13 1299.69 790.01 1286.82C801.89 1273.96 813.76 1261.08 825.47 1248.08C837.19 1235.07 848.74 1221.95 859.97 1208.59C871.20 1195.23 882.12 1181.65 892.56 1167.73C897.55 1161.07 902.43 1154.35 907.44 1147.74C912.45 1141.14 917.60 1134.66 923.13 1128.51C928.65 1122.36 934.56 1116.53 941.08 1111.23C947.61 1105.93 954.75 1101.15 962.76 1097.11C965.20 1095.87 967.72 1094.71 970.29 1093.65C972.85 1092.59 975.45 1091.64 978.06 1090.85C980.66 1090.05 983.27 1089.41 985.83 1088.96C988.40 1088.50 990.92 1088.25 993.37 1088.22C999.48 1088.16 1005.10 1089.57 1010.30 1092.08C1015.50 1094.58 1020.29 1098.19 1024.74 1102.52C1029.19 1106.85 1033.31 1111.91 1037.17 1117.33C1041.03 1122.74 1044.64 1128.52 1048.07 1134.29C1054.19 1144.58 1059.76 1154.85 1064.93 1165.11C1070.09 1175.37 1074.85 1185.63 1079.36 1195.91C1083.86 1206.19 1088.11 1216.50 1092.26 1226.87C1096.41 1237.23 1100.46 1247.65 1104.55 1258.15C1107.77 1266.39 1111.01 1274.69 1114.30 1283.00C1117.59 1291.32 1120.93 1299.65 1124.34 1307.98C1127.75 1316.31 1131.23 1324.62 1134.80 1332.91C1138.36 1341.19 1142.01 1349.43 1145.77 1357.60C1150.59 1368.07 1155.57 1378.43 1160.91 1388.52C1166.25 1398.61 1171.93 1408.44 1178.13 1417.85C1184.34 1427.27 1191.07 1436.27 1198.49 1444.70C1205.91 1453.13 1214.03 1460.99 1223.01 1468.14C1226.42 1470.85 1229.95 1473.45 1233.57 1475.97C1237.20 1478.48 1240.91 1480.91 1244.67 1483.26C1248.44 1485.61 1252.26 1487.89 1256.09 1490.10C1259.93 1492.31 1263.79 1494.46 1267.63 1496.56C1269.95 1497.83 1272.26 1499.08 1274.57 1500.30C1276.88 1501.53 1279.19 1502.72 1281.51 1503.88C1283.83 1505.04 1286.16 1506.17 1288.50 1507.25C1290.85 1508.33 1293.20 1509.36 1295.58 1510.34C1306.65 1514.90 1318.18 1518.29 1330.01 1520.72C1341.83 1523.15 1353.95 1524.62 1366.18 1525.34C1378.41 1526.06 1390.76 1526.04 1403.06 1525.48C1415.36 1524.93 1427.60 1523.84 1439.62 1522.43C1443.06 1522.03 1446.48 1521.60 1449.88 1521.11C1453.28 1520.63 1456.67 1520.09 1460.04 1519.46C1463.41 1518.83 1466.77 1518.11 1470.11 1517.28C1473.45 1516.45 1476.78 1515.50 1480.10 1514.40C1481.30 1514.01 1482.50 1513.59 1483.70 1513.14C1484.89 1512.70 1486.07 1512.23 1487.23 1511.72C1488.39 1511.22 1489.53 1510.68 1490.64 1510.10C1491.75 1509.52 1492.83 1508.89 1493.87 1508.22C1497.44 1505.92 1500.55 1503.04 1503.29 1499.76C1506.04 1496.48 1508.43 1492.80 1510.58 1488.91C1512.74 1485.01 1514.65 1480.90 1516.45 1476.74C1518.25 1472.59 1519.93 1468.39 1521.60 1464.32C1523.43 1459.89 1525.26 1455.61 1527.16 1451.43C1529.05 1447.25 1531.00 1443.16 1533.07 1439.09C1535.14 1435.02 1537.33 1430.98 1539.70 1426.88C1542.08 1422.79 1544.63 1418.65 1547.43 1414.39C1549.17 1411.74 1551.00 1409.04 1552.94 1406.47C1554.87 1403.91 1556.90 1401.46 1559.03 1399.32C1561.17 1397.18 1563.40 1395.34 1565.75 1393.97C1568.09 1392.59 1570.54 1391.69 1573.11 1391.44C1575.64 1391.18 1578.28 1391.56 1580.93 1392.41C1583.59 1393.27 1586.27 1394.61 1588.88 1396.30C1591.48 1397.98 1594.02 1400.00 1596.40 1402.23C1598.77 1404.45 1600.99 1406.87 1602.96 1409.35C1603.85 1410.48 1604.69 1411.62 1605.51 1412.75C1606.33 1413.88 1607.12 1415.00 1607.92 1416.10C1608.72 1417.20 1609.52 1418.27 1610.35 1419.30C1611.19 1420.33 1612.05 1421.32 1612.98 1422.24C1615.54 1424.80 1618.55 1426.88 1621.82 1428.47C1625.09 1430.06 1628.62 1431.16 1632.20 1431.74C1635.78 1432.33 1639.41 1432.40 1642.89 1431.94C1646.38 1431.48 1649.72 1430.48 1652.70 1428.94C1656.78 1426.82 1660.20 1423.68 1663.22 1419.89C1666.23 1416.10 1668.84 1411.66 1671.28 1406.95C1673.72 1402.24 1676.00 1397.25 1678.35 1392.38C1680.71 1387.50 1683.14 1382.73 1685.89 1378.45C1688.14 1374.96 1690.60 1371.79 1693.23 1368.85C1695.86 1365.91 1698.66 1363.20 1701.59 1360.63C1704.52 1358.06 1707.58 1355.63 1710.73 1353.23C1713.88 1350.84 1717.11 1348.50 1720.40 1346.10C1722.47 1344.58 1724.57 1343.04 1726.64 1341.47C1728.71 1339.89 1730.75 1338.28 1732.73 1336.61C1734.71 1334.94 1736.62 1333.22 1738.42 1331.42C1740.23 1329.62 1741.92 1327.74 1743.46 1325.78C1746.52 1321.87 1748.98 1317.60 1750.99 1313.07C1753.00 1308.53 1754.55 1303.73 1755.80 1298.76C1757.04 1293.80 1757.98 1288.66 1758.77 1283.46C1759.56 1278.26 1760.18 1273.00 1760.81 1267.76C1761.77 1259.63 1762.72 1251.57 1763.65 1243.56C1764.58 1235.56 1765.49 1227.60 1766.38 1219.68C1767.28 1211.76 1768.15 1203.87 1769.00 1195.99C1769.85 1188.12 1770.68 1180.25 1771.49 1172.37C1773.40 1153.79 1775.19 1135.16 1776.88 1116.49C1778.56 1097.82 1780.14 1079.11 1781.64 1060.38C1783.14 1041.65 1784.56 1022.90 1785.91 1004.13C1787.26 985.36 1788.54 966.59 1789.79 947.81C1792.26 910.36 1794.56 872.91 1796.76 835.47C1798.95 798.03 1801.04 760.60 1803.11 723.17C1805.17 685.74 1807.21 648.33 1809.30 610.92C1811.38 573.51 1813.52 536.11 1815.78 498.72C1816.71 483.45 1817.65 468.19 1818.62 452.92C1819.59 437.66 1820.59 422.39 1821.62 407.11C1822.65 391.83 1823.72 376.54 1824.81 361.24C1825.91 345.94 1827.05 330.62 1828.23 315.29C1828.77 308.28 1829.32 301.27 1829.98 294.28C1830.65 287.29 1831.42 280.33 1832.42 273.41C1833.42 266.49 1834.63 259.62 1836.17 252.83C1837.71 246.03 1839.58 239.32 1841.87 232.70C1842.23 231.66 1842.60 230.63 1842.99 229.67C1843.39 228.72 1843.80 227.84 1844.25 227.12C1844.69 226.39 1845.17 225.82 1845.70 225.48C1846.22 225.14 1846.79 225.03 1847.41 225.22C1847.84 225.35 1848.29 225.63 1848.75 226.01C1849.21 226.39 1849.69 226.88 1850.15 227.44C1850.62 228.01 1851.08 228.65 1851.52 229.33C1851.97 230.01 1852.39 230.73 1852.78 231.47C1853.46 232.77 1854.04 234.09 1854.53 235.44C1855.02 236.79 1855.43 238.15 1855.78 239.53C1856.13 240.90 1856.42 242.29 1856.69 243.67C1856.95 245.06 1857.19 246.45 1857.42 247.82C1858.19 252.41 1858.94 256.90 1859.65 261.33C1860.37 265.77 1861.06 270.13 1861.72 274.47C1862.37 278.80 1863.00 283.10 1863.59 287.39C1864.18 291.69 1864.74 295.97 1865.25 300.28C1865.81 304.90 1866.32 309.54 1866.80 314.20C1867.27 318.86 1867.72 323.54 1868.14 328.23C1868.56 332.92 1868.95 337.63 1869.34 342.34C1869.72 347.05 1870.09 351.77 1870.45 356.48C1873.16 391.44 1875.66 426.38 1878.00 461.30C1880.35 496.23 1882.55 531.13 1884.67 566.04C1886.79 600.94 1888.83 635.84 1890.85 670.74C1892.87 705.63 1894.87 740.54 1896.93 775.45C1899.95 826.86 1903.09 878.30 1906.59 929.71C1910.10 981.12 1913.97 1032.51 1918.49 1083.83C1923.00 1135.14 1928.15 1186.39 1934.20 1237.51C1940.24 1288.63 1947.19 1339.64 1955.31 1390.47C1956.41 1397.39 1957.54 1404.31 1958.75 1411.22C1959.95 1418.12 1961.24 1425.01 1962.68 1431.87C1964.11 1438.74 1965.68 1445.58 1967.46 1452.38C1969.24 1459.18 1971.22 1465.94 1973.46 1472.66C1974.63 1476.18 1975.88 1479.69 1977.23 1483.15C1978.57 1486.62 1980.01 1490.04 1981.57 1493.40C1983.14 1496.75 1984.82 1500.04 1986.65 1503.22C1988.48 1506.41 1990.45 1509.49 1992.60 1512.45C1996.25 1517.50 2000.40 1522.17 2004.94 1526.46C2009.49 1530.75 2014.42 1534.65 2019.64 1538.15C2024.86 1541.65 2030.37 1544.75 2036.07 1547.43C2041.77 1550.11 2047.66 1552.36 2053.62 1554.19C2061.11 1556.47 2068.73 1558.07 2076.45 1559.19C2084.16 1560.30 2091.97 1560.93 2099.83 1561.29C2107.68 1561.64 2115.59 1561.71 2123.51 1561.70C2131.44 1561.69 2139.37 1561.60 2147.27 1561.64C2159.68 1561.70 2172.02 1562.07 2184.32 1562.56C2196.62 1563.06 2208.90 1563.68 2221.18 1564.26C2233.46 1564.84 2245.74 1565.37 2258.08 1565.68C2270.41 1565.98 2282.80 1566.06 2295.26 1565.74L2301.02 1565.59" fill="none" stroke="#000080" stroke-width="9.2" stroke-linejoin="round" stroke-linecap="butt"/>
</g>
<line x1="554" y1="313.7" x2="733" y2="313.7" stroke="#ff8000" stroke-width="10" stroke-linecap="round"/>
<text transform="translate(755 340) scale(1 1.04)" font-size="80" font-weight="bold" fill="#000">5</text>
<line x1="554" y1="414.4" x2="733" y2="414.4" stroke="#008000" stroke-width="10" stroke-linecap="round"/>
<text transform="translate(755 442) scale(1 1.04)" font-size="80" font-weight="bold" fill="#000">7c</text>
<line x1="554" y1="515.6" x2="733" y2="515.6" stroke="#000080" stroke-width="10" stroke-linecap="round"/>
<text transform="translate(755 543.5) scale(1 1.04)" font-size="80" font-weight="bold" fill="#000">8</text>
<text transform="translate(1747.8 213.8) rotate(-90) scale(1 1.04)" font-size="80" fill="#008000">712</text>
<text transform="translate(1829.9 211.3) rotate(-90) scale(1 1.04)" font-size="80" fill="#ff8000">726</text>
<text transform="translate(1912.6 213.6) rotate(-90) scale(1 1.04)" font-size="80" fill="#000080">728</text>
</svg></body></html>
